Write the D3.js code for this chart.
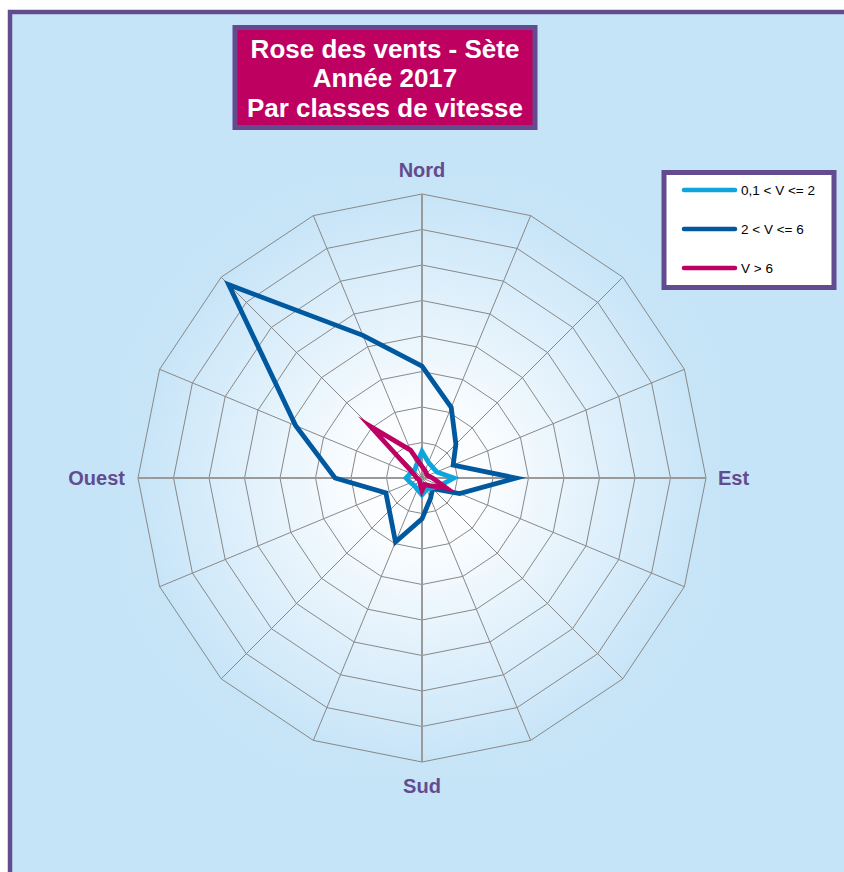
<!DOCTYPE html>
<html>
<head>
<meta charset="utf-8">
<script src="https://cdn.jsdelivr.net/npm/d3@7"></script>
<style>
  body { margin: 0; background: #fff; }
  text { font-family: "Liberation Sans", Arial, sans-serif; }
</style>
</head>
<body>
<script>
// directions, clockwise from north
const directions = ["N", "NNE", "NE", "ENE", "E", "ESE", "SE", "SSE",
  "S", "SSW", "SW", "WSW", "W", "WNW", "NW", "NNW"];

// frequency (%) per speed class
const lowSpeed = [1.5, 0.95, 0.85, 0.9, 1.8, 1.1, 0.8, 0.7, 0.95, 0.7, 0.6, 0.7, 0.9, 0.7, 0.6, 0.8];
const midSpeed = [6.3, 4.3, 2.7, 1.9, 5.3, 2.3, 0.85, 1.25, 2.3, 3.9, 2.6, 2.2, 4.9, 7.7, 15.4, 8.7];
const highSpeed = [0.65, 0.45, 0.35, 0.35, 0.6, 1.5, 0.6, 0.4, 0.7, 0.3, 0.2, 0.2, 0.3, 0.45, 4.1, 1.7];

const seriesNames = ["0,1 < V <= 2", "2 < V <= 6", "V > 6"];
const seriesColors = ["#0ea5dd", "#00589e", "#be0064"];
const ringTicks = [2, 4, 6, 8, 10, 12, 14, 16];
const cardinals = ["Nord", "Est", "Sud", "Ouest"];
const titleLines = ["Rose des vents - Sète", "Année 2017", "Par classes de vitesse"];

const W = 844, H = 872;
const cx = 422, cy = 478, R = 284;
const purple = "#634b8f";

const svg = d3.select("body").append("svg")
  .attr("width", W)
  .attr("height", H);

const defs = svg.append("defs");
const grad = defs.append("radialGradient")
  .attr("id", "plotbg")
  .attr("gradientUnits", "userSpaceOnUse")
  .attr("cx", cx).attr("cy", cy).attr("r", 330);
grad.append("stop").attr("offset", "0").attr("stop-color", "#ffffff");
grad.append("stop").attr("offset", "0.2").attr("stop-color", "#fbfdff");
grad.append("stop").attr("offset", "0.85").attr("stop-color", "#c8e5f8");
grad.append("stop").attr("offset", "1").attr("stop-color", "#c6e4f7");

// outer frame
svg.append("rect")
  .attr("x", 10).attr("y", 12)
  .attr("width", W + 20).attr("height", H + 20)
  .attr("fill", "#c6e4f7")
  .attr("stroke", purple)
  .attr("stroke-width", 4.5);

// plot area
svg.append("rect")
  .attr("x", cx - 300).attr("y", cy - 300)
  .attr("width", 600).attr("height", 600)
  .attr("fill", "url(#plotbg)");

const r = d3.scaleLinear().domain([0, 16]).range([0, R]);
const angle = d3.scaleLinear().domain([0, directions.length]).range([0, 2 * Math.PI]);

const g = svg.append("g").attr("transform", `translate(${cx},${cy})`);

// rings
const ringLine = d3.lineRadial()
  .angle((d, i) => angle(i))
  .radius(d => r(d))
  .curve(d3.curveLinearClosed);

g.selectAll(".ring")
  .data(ringTicks)
  .join("path")
  .attr("class", "ring")
  .attr("d", t => ringLine(directions.map(() => t)))
  .attr("fill", "none")
  .attr("stroke", "#888")
  .attr("stroke-width", 1);

// spokes
g.selectAll(".spoke")
  .data(directions)
  .join("line")
  .attr("class", "spoke")
  .attr("x1", 0).attr("y1", 0)
  .attr("x2", (d, i) => r(16) * Math.sin(angle(i)))
  .attr("y2", (d, i) => -r(16) * Math.cos(angle(i)))
  .attr("stroke", (d, i) => i % 4 === 0 ? "#9a9a9a" : "#888")
  .attr("stroke-width", (d, i) => i % 4 === 0 ? 2 : 1);

// series
const allSeries = [lowSpeed, midSpeed, highSpeed];
const seriesLine = d3.lineRadial()
  .angle((d, i) => angle(i))
  .radius(d => r(d))
  .curve(d3.curveLinearClosed);

// draw dark blue first, then light blue, then magenta on top
[1, 0, 2].forEach(k => {
  g.append("path")
    .attr("d", seriesLine(allSeries[k]))
    .attr("fill", "none")
    .attr("stroke", seriesColors[k])
    .attr("stroke-width", 4.8)
    .attr("stroke-linejoin", "miter")
    .attr("stroke-miterlimit", 10);
});

// cardinal labels
const labelStyle = sel => sel
  .attr("fill", purple)
  .style("font-size", "20px")
  .style("font-weight", "bold");

svg.append("text").call(labelStyle)
  .attr("x", cx).attr("y", cy - 301)
  .attr("text-anchor", "middle").text(cardinals[0]);
svg.append("text").call(labelStyle)
  .attr("x", cx + 296).attr("y", cy + 7)
  .attr("text-anchor", "start").text(cardinals[1]);
svg.append("text").call(labelStyle)
  .attr("x", cx).attr("y", cy + 315)
  .attr("text-anchor", "middle").text(cardinals[2]);
svg.append("text").call(labelStyle)
  .attr("x", cx - 297).attr("y", cy + 7)
  .attr("text-anchor", "end").text(cardinals[3]);

// title box
svg.append("rect")
  .attr("x", 235).attr("y", 27.5)
  .attr("width", 300).attr("height", 100)
  .attr("fill", "#be0060")
  .attr("stroke", purple)
  .attr("stroke-width", 5);

svg.selectAll(".title")
  .data(titleLines)
  .join("text")
  .attr("class", "title")
  .attr("x", 385)
  .attr("y", (d, i) => 57.5 + i * 29.5)
  .attr("text-anchor", "middle")
  .attr("fill", "#fff")
  .style("font-size", "26px")
  .style("font-weight", "bold")
  .text(d => d);

// legend
svg.append("rect")
  .attr("x", 664).attr("y", 172.5)
  .attr("width", 170).attr("height", 115)
  .attr("fill", "#fff")
  .attr("stroke", purple)
  .attr("stroke-width", 5);

const legend = svg.selectAll(".legend")
  .data(seriesNames)
  .join("g")
  .attr("class", "legend")
  .attr("transform", (d, i) => `translate(0,${190 + i * 39})`);

legend.append("line")
  .attr("x1", 684).attr("x2", 735)
  .attr("stroke", (d, i) => seriesColors[i])
  .attr("stroke-width", 4.5)
  .attr("stroke-linecap", "round");

legend.append("text")
  .attr("x", 741).attr("y", 4.5)
  .style("font-size", "13.5px")
  .attr("fill", "#000")
  .text(d => d);
</script>
</body>
</html>
